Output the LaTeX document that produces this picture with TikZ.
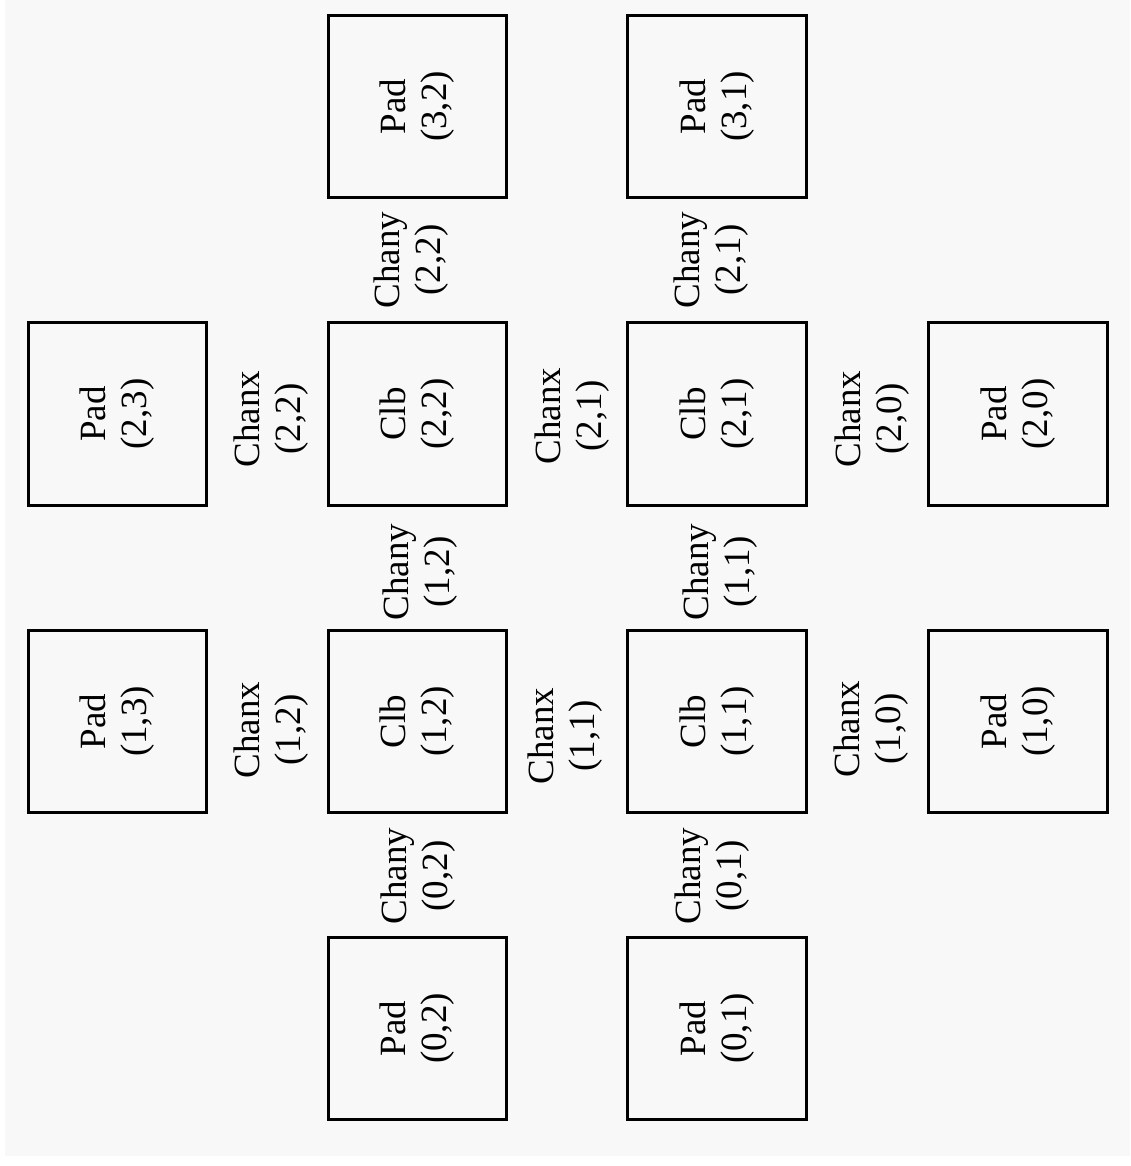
\documentclass[tikz,border=0pt]{standalone}
\usepackage{fontspec}
\setmainfont{Liberation Serif}
\definecolor{bg}{HTML}{F8F8F8}
\begin{document}
\begin{tikzpicture}[x=1pt,y=-1pt,
  box/.style={draw=black, line width=2.6pt, rotate=90, minimum width=182.5pt, minimum height=178.5pt, align=center, inner sep=0pt, font=\fontsize{37}{41}\selectfont},
  chan/.style={rotate=90, align=center, inner sep=0pt, font=\fontsize{37}{41}\selectfont}]
\useasboundingbox (0,0) rectangle (1130,1166);
\fill[white] (0,0) rectangle (1130,1166);
\fill[bg] (5,0) rectangle (1130,1156);
% row 3
\node[box] (p32) at (417.5,106.5) {Pad\\(3,2)};
\node[box] (p31) at (717,106.5) {Pad\\(3,1)};
% row 2
\node[box] (p23) at (117.5,414) {Pad\\(2,3)};
\node[box] (c22) at (417.5,414) {Clb\\(2,2)};
\node[box] (c21) at (717,414) {Clb\\(2,1)};
\node[box] (p20) at (1018,414) {Pad\\(2,0)};
% row 1
\node[box] (p13) at (117.5,721.5) {Pad\\(1,3)};
\node[box] (c12) at (417.5,721.5) {Clb\\(1,2)};
\node[box] (c11) at (717,721.5) {Clb\\(1,1)};
\node[box] (p10) at (1018,721.5) {Pad\\(1,0)};
% row 0
\node[box] (p02) at (417.5,1028.5) {Pad\\(0,2)};
\node[box] (p01) at (717,1028.5) {Pad\\(0,1)};
% channels y
\node[chan] (cy22) at (411,260) {Chany\\(2,2)};
\node[chan] (cy21) at (711,260) {Chany\\(2,1)};
\node[chan] (cy12) at (420,572) {Chany\\(1,2)};
\node[chan] (cy11) at (720,572) {Chany\\(1,1)};
\node[chan] (cy02) at (418,876) {Chany\\(0,2)};
\node[chan] (cy01) at (712,876) {Chany\\(0,1)};
% channels x
\node[chan] (cx22) at (271,419) {Chanx\\(2,2)};
\node[chan] (cx21) at (572,416) {Chanx\\(2,1)};
\node[chan] (cx20) at (872,419) {Chanx\\(2,0)};
\node[chan] (cx12) at (271,730) {Chanx\\(1,2)};
\node[chan] (cx11) at (565,736) {Chanx\\(1,1)};
\node[chan] (cx10) at (871,729) {Chanx\\(1,0)};
\end{tikzpicture}
\end{document}
